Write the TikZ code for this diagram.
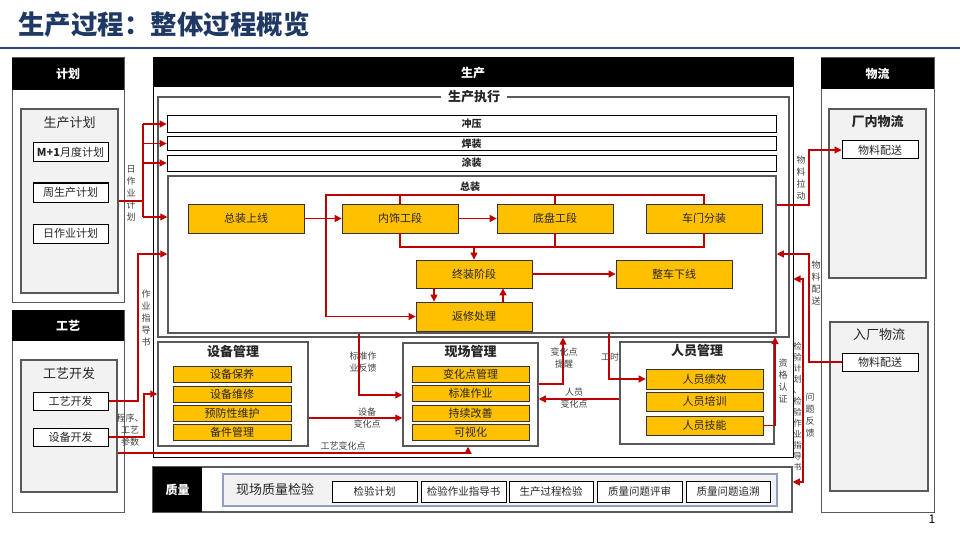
\documentclass[tikz,border=0pt]{standalone}
\usepackage{fontspec}
\setmainfont{Noto Sans CJK SC}
\usetikzlibrary{arrows.meta}
\definecolor{cred}{HTML}{C00000}
\definecolor{cyel}{HTML}{FFC000}
\definecolor{ctitle}{HTML}{1F3864}
\definecolor{cbar}{HTML}{24477F}
\definecolor{cgfill}{HTML}{F2F2F2}
\definecolor{cgline}{HTML}{595959}
\definecolor{ctext}{HTML}{262626}
\definecolor{cqline}{HTML}{8EA0BC}
\newcommand\fs[2]{\fontsize{#1}{#2}\selectfont}
\begin{document}
\begin{tikzpicture}[x=1pt,y=-1pt,
  every node/.style={inner sep=0pt, text=ctext},
  outer/.style={draw=cgline, line width=1pt},
  hdr/.style={fill=black, text=white, font=\bfseries\fs{12}{14}},
  gbox/.style={draw=cgline, fill=cgfill, line width=1.5pt},
  wbox/.style={draw=black, fill=white, line width=1pt, font=\fs{11}{13}},
  ybx/.style={draw=black!80, fill=cyel, line width=0.8pt, font=\fs{11}{13}},
  mbox/.style={draw=cgline, fill=white, line width=1.5pt},
  bar/.style={draw=black, fill=white, line width=0.9pt, font=\bfseries\fs{10}{12}},
  ttl/.style={font=\bfseries\fs{13}{15}},
  conn/.style={draw=cred, line width=1.1pt},
  arr/.style={-{Triangle[length=7pt,width=7pt]}},
  lbl/.style={font=\fs{9}{12}, text=black!75, align=center},
]
\useasboundingbox (0,0) rectangle (960,540);
% title
\node[anchor=west, font=\bfseries\fs{26.5}{30}, text=ctitle] (title) at (18,25) {生产过程：整体过程概览};
\draw[cbar, line width=2.5pt] (0,48) -- (960,48);

% ---------- plan column ----------
\node[outer, minimum width=112pt, minimum height=244pt] (planout) at (68,180) {};
\node[hdr, minimum width=112pt, minimum height=32pt] (planhd) at (68,74) {计划};
\node[gbox, minimum width=97pt, minimum height=184pt] (plangray) at (69.5,201) {};
\node[font=\fs{13}{15}] (plantt) at (69.5,123) {生产计划};
\node[wbox, minimum width=75pt, minimum height=19pt] (m1) at (70.5,152.5) {\textbf{M+1}月度计划};
\node[wbox, minimum width=75pt, minimum height=19pt] (week) at (70.5,192.5) {周生产计划};
\node[wbox, minimum width=75pt, minimum height=19pt] (day) at (70.5,233.5) {日作业计划};

% ---------- craft column ----------
\node[outer, minimum width=112pt, minimum height=202pt] (gyout) at (68,411) {};
\node[hdr, minimum width=112pt, minimum height=31pt] (gyhd) at (68,325.5) {工艺};
\node[gbox, minimum width=96pt, minimum height=132pt] (gygray) at (69,426) {};
\node[font=\fs{13}{15}] (gytt) at (69,374) {工艺开发};
\node[wbox, minimum width=75pt, minimum height=18pt] (gykf) at (70.5,401) {工艺开发};
\node[wbox, minimum width=75pt, minimum height=18pt] (sbkf) at (70.5,437) {设备开发};

% ---------- production ----------
\node[draw=black, line width=1pt, minimum width=640pt, minimum height=399pt] (prodout) at (473,257.5) {};
\node[hdr, minimum width=640pt, minimum height=29pt] (prodhd) at (473,72.5) {生产};
\node[draw=cgline, line width=1.2pt, minimum width=631pt, minimum height=240pt] (exec) at (473.5,217) {};
\node[fill=white, inner xsep=7pt, inner ysep=2pt, font=\bfseries\fs{13}{15}] (exectt) at (474,97) {生产执行};
\node[bar, minimum width=609pt, minimum height=17pt] (cy) at (471.5,124) {冲压};
\node[bar, minimum width=609pt, minimum height=14pt] (hz) at (471.5,143.5) {焊装};
\node[bar, minimum width=609pt, minimum height=16pt] (ty) at (471.5,163) {涂装};
\node[draw=cgline, line width=1.5pt, minimum width=608pt, minimum height=157pt] (zz) at (472,254.5) {};
\node[font=\bfseries\fs{10}{12}] (zztt) at (470,187) {总装};

\node[ybx, minimum width=116pt, minimum height=29pt] (zzsx) at (246,218.5) {总装上线};
\node[ybx, minimum width=116pt, minimum height=29pt] (nsgd) at (400,218.5) {内饰工段};
\node[ybx, minimum width=116pt, minimum height=29pt] (dpgd) at (555,218.5) {底盘工段};
\node[ybx, minimum width=116pt, minimum height=29pt] (cmfz) at (704,218.5) {车门分装};
\node[ybx, minimum width=116pt, minimum height=28pt] (zzjd) at (474,274) {终装阶段};
\node[ybx, minimum width=116pt, minimum height=28pt] (zcxx) at (674,274) {整车下线};
\node[ybx, minimum width=116pt, minimum height=29pt] (fxcl) at (474,316.5) {返修处理};

\coordinate (tb) at (326,195);
\coordinate (bb) at (474,247);
\draw[conn,arr] (zzsx.east) -- (nsgd.west);
\draw[conn,arr] (nsgd.east) -- (dpgd.west);
\draw[conn] (nsgd.north) -- (nsgd.north |- tb);
\draw[conn] (dpgd.north) -- (dpgd.north |- tb);
\draw[conn,arr] (cmfz.north) |- (tb) |- (fxcl.west);
\draw[conn] (nsgd.south) |- (cmfz.south |- bb) -- (cmfz.south);
\draw[conn] (dpgd.south) -- (dpgd.south |- bb);
\draw[conn,arr] (bb) -- (zzjd.north);
\draw[conn,arr] (zzjd.east) -- (zcxx.west);
\draw[conn,arr] ([xshift=-40pt]zzjd.south) -- ([xshift=-40pt]fxcl.north);
\draw[conn,arr] ([xshift=29pt]fxcl.north) -- ([xshift=29pt]zzjd.south);

% ---------- management boxes ----------
\node[mbox, minimum width=150pt, minimum height=104pt] (sbgl) at (233,394) {};
\node[ttl] (sbgltt) at (233,352) {设备管理};
\node[ybx, minimum width=118pt, minimum height=16pt] (sb1) at (232,374.5) {设备保养};
\node[ybx, minimum width=118pt, minimum height=16pt] (sb2) at (232,394) {设备维修};
\node[ybx, minimum width=118pt, minimum height=16pt] (sb3) at (232,413) {预防性维护};
\node[ybx, minimum width=118pt, minimum height=16pt] (sb4) at (232,432) {备件管理};

\node[mbox, minimum width=135pt, minimum height=103pt] (xcgl) at (470.5,394.5) {};
\node[ttl] (xcgltt) at (470.5,352) {现场管理};
\node[ybx, minimum width=117pt, minimum height=16pt] (xc1) at (470.5,374) {变化点管理};
\node[ybx, minimum width=117pt, minimum height=16pt] (xc2) at (470.5,393.5) {标准作业};
\node[ybx, minimum width=117pt, minimum height=16pt] (xc3) at (470.5,413) {持续改善};
\node[ybx, minimum width=117pt, minimum height=16pt] (xc4) at (470.5,432) {可视化};

\node[mbox, minimum width=154pt, minimum height=102pt] (rygl) at (697,393) {};
\node[ttl] (rygltt) at (697,351) {人员管理};
\node[ybx, minimum width=117pt, minimum height=20pt] (ry1) at (704.5,379) {人员绩效};
\node[ybx, minimum width=117pt, minimum height=19pt] (ry2) at (704.5,401.5) {人员培训};
\node[ybx, minimum width=117pt, minimum height=19pt] (ry3) at (704.5,425.5) {人员技能};

% ---------- logistics ----------
\node[outer, minimum width=113pt, minimum height=454pt] (wlout) at (877.5,285) {};
\node[hdr, minimum width=113pt, minimum height=31pt] (wlhd) at (877.5,73.5) {物流};
\node[gbox, minimum width=97pt, minimum height=169pt] (cngray) at (877.5,193.5) {};
\node[ttl] (cntt) at (877.5,122) {厂内物流};
\node[wbox, minimum width=76pt, minimum height=18pt] (cnps) at (880,150) {物料配送};
\node[gbox, minimum width=98pt, minimum height=169pt] (rcgray) at (879,406.5) {};
\node[font=\fs{13}{15}] (rctt) at (879,335) {入厂物流};
\node[wbox, minimum width=76pt, minimum height=18pt] (rcps) at (880,362) {物料配送};

% ---------- quality ----------
\node[draw=cgline, line width=1.5pt, minimum width=639pt, minimum height=45pt] (zl) at (472.5,489.5) {};
\node[hdr, minimum width=49pt, minimum height=45pt] (zlhd) at (177.5,489.5) {质量};
\node[draw=cqline, fill=cgfill, line width=1.2pt, minimum width=554pt, minimum height=32pt] (zlin) at (500,490) {};
\node[font=\fs{13}{15}] (zltt) at (275,490) {现场质量检验};
\node[wbox, minimum width=85pt, minimum height=21pt, font=\fs{10.5}{12}] (q1) at (374.5,491.5) {检验计划};
\node[wbox, minimum width=85pt, minimum height=21pt, font=\fs{10.5}{12}] (q2) at (463.5,491.5) {检验作业指导书};
\node[wbox, minimum width=84pt, minimum height=21pt, font=\fs{10.5}{12}] (q3) at (551,491.5) {生产过程检验};
\node[wbox, minimum width=85pt, minimum height=21pt, font=\fs{10.5}{12}] (q4) at (639.5,491.5) {质量问题评审};
\node[wbox, minimum width=84pt, minimum height=21pt, font=\fs{10.5}{12}] (q5) at (728,491.5) {质量问题追溯};

% ---------- plan connectors ----------
\coordinate (pj) at (143,201);
\coordinate (pz) at (143,217);
\draw[conn] (plangray.east) -- (pj);
\draw[conn] (pj |- cy.west) -- (pz);
\draw[conn,arr] (pj |- cy.west) -- (cy.west);
\draw[conn,arr] (pj |- hz.west) -- (hz.west);
\draw[conn,arr] (pj |- ty.west) -- (ty.west);
\draw[conn,arr] (pz) -- (zz.west |- pz);
\node[lbl] (l1) at (131,193) {日\\作\\业\\计\\划};

% ---------- craft connectors ----------
\coordinate (g1) at (138,254);
\draw[conn,arr] (gykf.east) -| (g1) -- (zz.west |- g1);
\node[lbl] (l2) at (146,318) {作\\业\\指\\导\\书};
\coordinate (g2) at (144,394);
\draw[conn,arr] (sbkf.east) -| (g2) -- (sbgl.west |- g2);
\node[lbl] (l3) at (130,430) {程序、\\工艺\\参数};
\coordinate (g3) at (468,453);
\draw[conn,arr] (gygray.east |- g3) -- (g3) -- (g3 |- xcgl.south);
\node[lbl] (l4) at (343,446) {工艺变化点};

% ---------- management connectors ----------
\coordinate (sf) at (359,395);
\draw[conn,arr] (zz.south -| sf) -- (sf) -- (xcgl.west |- sf);
\node[lbl] (l5) at (363,362) {标准作\\业反馈};
\coordinate (sv) at (350,418);
\draw[conn,arr] (sbgl.east |- sv) -- (xcgl.west |- sv);
\node[lbl] (l6) at (367,418.5) {设备\\变化点};
\coordinate (bt) at (563,384);
\draw[conn,arr] (xcgl.east |- bt) -- (bt) -- (bt |- exec.south);
\node[lbl] (l7) at (564,358) {变化点\\提醒};
\coordinate (gs) at (609,379);
\draw[conn,arr] (zz.south -| gs) |- (ry1.west);
\node[lbl] (l8) at (610,357) {工时};
\coordinate (rb) at (580,399);
\draw[conn,arr] (rygl.west |- rb) -- (xcgl.east |- rb);
\node[lbl] (l9) at (574,398) {人员\\变化点};
\coordinate (zg) at (775,337);
\draw[conn,arr] (ry3.east) -| (zg);
\node[lbl] (l10) at (783,381) {资\\格\\认\\证};

% ---------- logistics connectors ----------
\coordinate (wl) at (809,205);
\draw[conn,arr] (zz.east |- wl) -- (wl) |- (cnps.west);
\node[lbl] (l11) at (801,178) {物\\料\\拉\\动};
\coordinate (wp) at (809,254);
\draw[conn,arr] (rcps.west) -| (wp) -- (zz.east |- wp);
\node[lbl] (l12) at (816,283) {物\\料\\配\\送};
\coordinate (j1) at (803,279);
\coordinate (j2) at (803,482);
\draw[conn,{Triangle[length=7pt,width=7pt]}-{Triangle[length=7pt,width=7pt]}] (prodout.east |- j1) -- (j1) -- (j2) -- (zl.east |- j2);
\node[lbl, font=\fs{8.5}{11}] (l13) at (797.5,407) {检\\验\\计\\划\\、\\检\\验\\作\\业\\指\\导\\书};
\node[lbl] (l14) at (810,415) {问\\题\\反\\馈};

\node[font=\fs{12}{14}, text=black] (pg) at (932,519) {1};
\end{tikzpicture}
\end{document}
